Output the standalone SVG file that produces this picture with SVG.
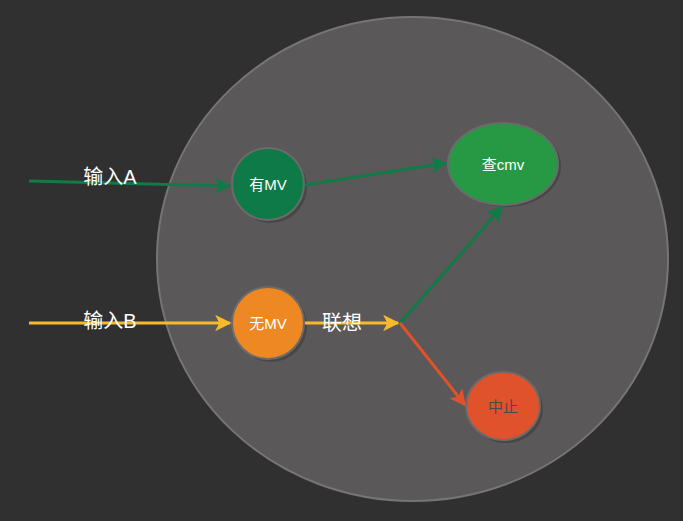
<svg xmlns="http://www.w3.org/2000/svg" width="683" height="521" viewBox="0 0 683 521">
<style>
.node{stroke:#6b6b6b;stroke-width:2}
.shadow{fill:#3c3c3c;opacity:0.6}
.lbl{font-family:"Liberation Sans","Noto Sans CJK SC",sans-serif;font-size:15px;fill:#ffffff;text-anchor:middle;dominant-baseline:central}
.big{font-family:"Liberation Sans","Noto Sans CJK SC",sans-serif;font-size:20px;fill:#ffffff;text-anchor:middle;dominant-baseline:central}
.con{fill:none;stroke-width:3}
</style>
<defs>
<marker id="ag" viewBox="0 0 10 10" refX="9" refY="5" markerWidth="5.5" markerHeight="5.5" orient="auto" markerUnits="strokeWidth"><path d="M0,0 L10,5 L0,10 L2.5,5 z" fill="#117a48"/></marker>
<marker id="ay" viewBox="0 0 10 10" refX="9" refY="5" markerWidth="5.5" markerHeight="5.5" orient="auto" markerUnits="strokeWidth"><path d="M0,0 L10,5 L0,10 L2.5,5 z" fill="#f8b92a"/></marker>
<marker id="ar" viewBox="0 0 10 10" refX="9" refY="5" markerWidth="5.5" markerHeight="5.5" orient="auto" markerUnits="strokeWidth"><path d="M0,0 L10,5 L0,10 L2.5,5 z" fill="#e0522c"/></marker>
</defs>
<rect width="683" height="521" fill="#303030"/>
<g id="container">
<ellipse cx="412.5" cy="259" rx="255.5" ry="242" fill="#5a5858" stroke="#757575" stroke-width="2"/>
</g>
<g id="node-youmv">
<circle class="shadow" cx="271" cy="187" r="36"/>
<circle class="node" cx="268" cy="184" r="36" fill="#0e7a48"/>
<text class="lbl" x="268" y="184">有MV</text>
</g>
<g id="node-wumv">
<circle class="shadow" cx="271" cy="326" r="36"/>
<circle class="node" cx="268" cy="323" r="36" fill="#ee8822"/>
<text class="lbl" x="268" y="323">无MV</text>
</g>
<g id="node-chacmv">
<ellipse class="shadow" cx="506" cy="166" rx="55" ry="41"/>
<ellipse class="node" cx="503" cy="164" rx="55" ry="41" fill="#279844"/>
<text class="lbl" x="503" y="164">查cmv</text>
</g>
<g id="node-zhongzhi">
<ellipse class="shadow" cx="506" cy="409" rx="37" ry="34"/>
<ellipse class="node" cx="503" cy="406" rx="37" ry="34" fill="#e0522c"/>
<text class="lbl" x="503" y="406" style="fill:#4a4a4a">中止</text>
</g>
<g id="connectors">
<path class="con" d="M29,181 L230,186" stroke="#117a48" marker-end="url(#ag)"/>
<path class="con" d="M305,185 L446,163" stroke="#117a48" marker-end="url(#ag)"/>
<path class="con" d="M29,323 L230,323" stroke="#f8b92a" marker-end="url(#ay)"/>
<path class="con" d="M305,323 L398,323" stroke="#f8b92a" marker-end="url(#ay)"/>
<path class="con" d="M400,323 L502,207" stroke="#117a48" marker-end="url(#ag)"/>
<path class="con" d="M400,323 L465,405" stroke="#e0522c" marker-end="url(#ar)"/>
<text class="big" x="110" y="177">输入A</text>
<text class="big" x="110" y="321">输入B</text>
<text class="big" x="342" y="323">联想</text>
</g>
</svg>
